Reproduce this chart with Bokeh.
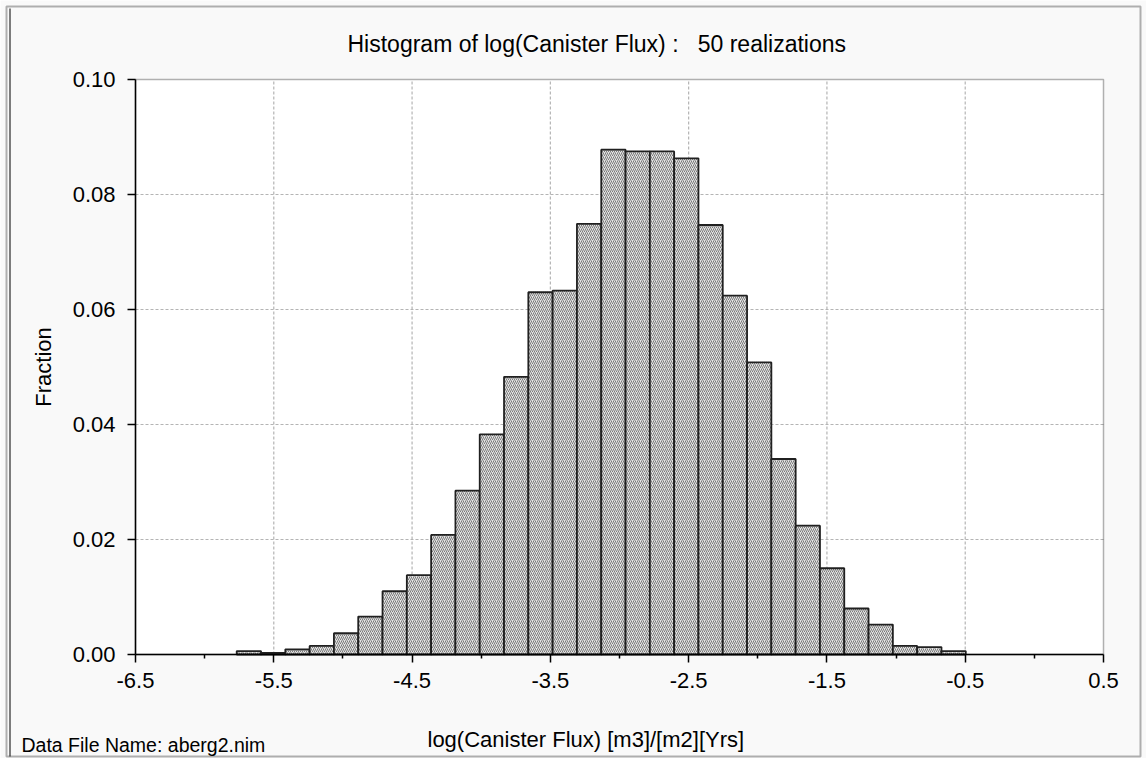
from math import pi
from bokeh.plotting import figure
from bokeh.models import (FixedTicker, PrintfTickFormatter, Label, BoxAnnotation,
                          Range1d, ColumnDataSource)
from bokeh.embed import file_html
from bokeh.resources import INLINE
import numpy as np

# histogram of log10 canister flux over all realizations
fractions = [0.0006, 0.0003, 0.0009, 0.0015, 0.0037, 0.0066, 0.0110, 0.0138,
             0.0208, 0.0285, 0.0383, 0.0483, 0.0630, 0.0633, 0.0749, 0.0878,
             0.0875, 0.0875, 0.0863, 0.0747, 0.0624, 0.0508, 0.0340, 0.0224,
             0.0150, 0.0080, 0.0052, 0.0015, 0.0013, 0.0006]
data_min = -5.768
data_max = -0.496

x_ticks = [-6.5, -5.5, -4.5, -3.5, -2.5, -1.5, -0.5, 0.5]
x_minor = [-6.0, -5.0, -4.0, -3.0, -2.0, -1.0, 0.0]
y_ticks = [0.00, 0.02, 0.04, 0.06, 0.08, 0.10]

title_text = "Histogram of log(Canister Flux) :\u00a0\u00a0 50 realizations"
x_label = "log(Canister Flux) [m3]/[m2][Yrs]"
y_label = "Fraction"
file_note = "Data File Name:  aberg2.nim"

edges = np.linspace(data_min, data_max, len(fractions) + 1)
src = ColumnDataSource(dict(left=edges[:-1], right=edges[1:], top=fractions,
                            bottom=[0.0] * len(fractions)))

FONT = "Liberation Sans"

# page geometry: the frame fills the whole canvas, the plotting box sits inside it
W, H = 1146, 758
BOX_L, BOX_R, BOX_T, BOX_B = 135, 1103, 79, 654
X0, X1 = x_ticks[0], x_ticks[-1]
Y0, Y1 = y_ticks[0], y_ticks[-1]
kx = (BOX_R - BOX_L) / (X1 - X0)
ky = (BOX_B - BOX_T) / (Y1 - Y0)
x_start, x_end = X0 - BOX_L / kx, X1 + (W - BOX_R) / kx
y_start, y_end = Y0 - (H - BOX_B) / ky, Y1 + BOX_T / ky


def cx(px):
    # canvas pixel column -> x value
    return x_start + px / kx


def cy(py):
    # canvas pixel row (downwards) -> y value
    return y_end - py / ky


p = figure(width=W, height=H, output_backend="svg", toolbar_location=None,
           x_range=Range1d(x_start, x_end), y_range=Range1d(y_start, y_end),
           min_border=0)
p.border_fill_color = "#f9f9f9"
p.background_fill_color = "#f9f9f9"
p.outline_line_color = None
p.xgrid.visible = False
p.ygrid.visible = False

# white plotting box
p.add_layout(BoxAnnotation(left=X0, right=X1, bottom=Y0, top=Y1, level="image",
                           fill_color="white", fill_alpha=1, line_alpha=0))

# dotted grid at the inner major ticks
gx = x_ticks[1:-1]
gy = y_ticks[1:-1]
p.segment(x0=gx, y0=[Y0] * len(gx), x1=gx, y1=[Y1] * len(gx),
          line_color="#b4b4b4", line_dash="3 2", line_width=1.2)
p.segment(x0=[X0] * len(gy), y0=gy, x1=[X1] * len(gy), y1=gy,
          line_color="#b4b4b4", line_dash="3 2", line_width=1.2)

p.quad(left="left", right="right", top="top", bottom="bottom", source=src,
       fill_color="#e4e4e4", line_color="#202020", line_width=1.8,
       hatch_pattern="/", hatch_color="#7a7a7a", hatch_scale=4, hatch_weight=1)

# axes pinned to the box edges
p.xaxis.fixed_location = Y0
p.yaxis.fixed_location = X0
p.xaxis.bounds = (X0, X1)
p.yaxis.bounds = (Y0, Y1)
p.xaxis.ticker = FixedTicker(ticks=x_ticks, minor_ticks=x_minor)
p.yaxis.ticker = FixedTicker(ticks=y_ticks)
p.xaxis.formatter = PrintfTickFormatter(format="%.1f")
p.yaxis.formatter = PrintfTickFormatter(format="%.2f")
for ax in (p.xaxis[0], p.yaxis[0]):
    ax.axis_line_color = "black"
    ax.axis_line_width = 1.5
    ax.major_tick_line_color = "black"
    ax.major_tick_line_width = 1.5
    ax.major_tick_out = 8
    ax.major_tick_in = 0
    ax.minor_tick_line_color = "black"
    ax.minor_tick_line_width = 1.5
    ax.minor_tick_out = 4
    ax.minor_tick_in = 0
    ax.major_label_text_font = FONT
    ax.major_label_text_font_size = "22px"
    ax.major_label_text_color = "black"
p.yaxis.minor_tick_line_color = None
p.xaxis.major_label_standoff = 10
p.yaxis.major_label_standoff = 12

# box outline
p.add_layout(BoxAnnotation(left=X0, right=X1, bottom=Y0, top=Y1, fill_alpha=0,
                           line_color="black", line_width=1.5))

# texts
p.add_layout(Label(x=cx(347), y=cy(43.5), text=title_text, text_font=FONT,
                   text_font_size="23px", text_align="left",
                   text_baseline="alphabetic", text_color="black"))
p.add_layout(Label(x=cx(427), y=cy(739), text=x_label, text_font=FONT,
                   text_font_size="22px", text_align="left",
                   text_baseline="alphabetic", text_color="black"))
p.add_layout(Label(x=cx(43), y=cy((BOX_T + BOX_B) / 2), text=y_label, angle=pi / 2,
                   text_font=FONT, text_font_size="22px", text_align="center",
                   text_baseline="alphabetic", text_color="black"))
p.add_layout(Label(x=cx(21), y=cy(744), text=file_note, text_font=FONT,
                   text_font_size="19.5px", text_align="left",
                   text_baseline="alphabetic", text_color="black"))

# window border
p.add_layout(BoxAnnotation(left=cx(6), right=cx(1140), top=cy(6), bottom=cy(756),
                           fill_alpha=0, line_color="black", line_width=2))
p.add_layout(BoxAnnotation(left=cx(9), right=cx(10), top=cy(8), bottom=cy(756),
                           fill_color="black", fill_alpha=1, line_alpha=0))

open("out.html", "w").write(file_html(p, INLINE))
